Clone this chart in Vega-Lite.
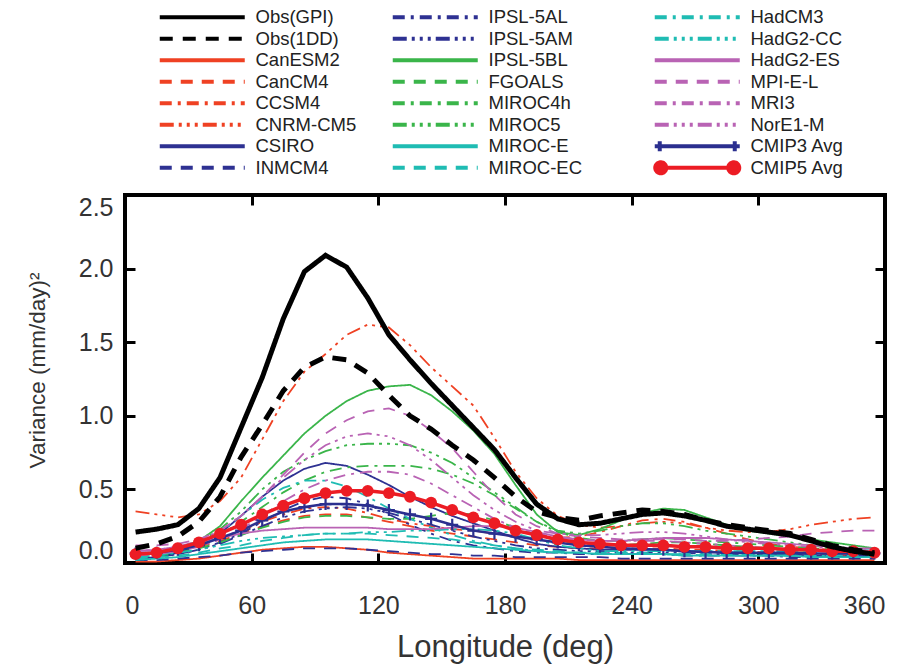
{
"$schema": "https://vega.github.io/schema/vega-lite/v6.json",
"width": 760, "height": 368,
"autosize": {"type": "none"},
"padding": {"left": 125, "top": 195, "right": 39, "bottom": 101},
"background": "white",
"config": {"view": {"stroke": "black", "strokeWidth": 4}, "font": "Liberation Sans"},
"datasets": {"d": [
{"m":"Obs(GPI)","x":5,"v":0.21},{"m":"Obs(GPI)","x":15,"v":0.23},{"m":"Obs(GPI)","x":25,"v":0.26},{"m":"Obs(GPI)","x":35,"v":0.37},{"m":"Obs(GPI)","x":45,"v":0.58},{"m":"Obs(GPI)","x":55,"v":0.92},{"m":"Obs(GPI)","x":65,"v":1.26},{"m":"Obs(GPI)","x":75,"v":1.66},{"m":"Obs(GPI)","x":85,"v":1.98},{"m":"Obs(GPI)","x":95,"v":2.09},{"m":"Obs(GPI)","x":105,"v":2.01},{"m":"Obs(GPI)","x":115,"v":1.8},{"m":"Obs(GPI)","x":125,"v":1.55},{"m":"Obs(GPI)","x":135,"v":1.38},{"m":"Obs(GPI)","x":145,"v":1.22},{"m":"Obs(GPI)","x":155,"v":1.07},{"m":"Obs(GPI)","x":165,"v":0.92},{"m":"Obs(GPI)","x":175,"v":0.77},{"m":"Obs(GPI)","x":185,"v":0.58},{"m":"Obs(GPI)","x":195,"v":0.4},{"m":"Obs(GPI)","x":205,"v":0.3},{"m":"Obs(GPI)","x":215,"v":0.26},{"m":"Obs(GPI)","x":225,"v":0.27},{"m":"Obs(GPI)","x":235,"v":0.3},{"m":"Obs(GPI)","x":245,"v":0.33},{"m":"Obs(GPI)","x":255,"v":0.34},{"m":"Obs(GPI)","x":265,"v":0.32},{"m":"Obs(GPI)","x":275,"v":0.29},{"m":"Obs(GPI)","x":285,"v":0.25},{"m":"Obs(GPI)","x":295,"v":0.23},{"m":"Obs(GPI)","x":305,"v":0.21},{"m":"Obs(GPI)","x":315,"v":0.19},{"m":"Obs(GPI)","x":325,"v":0.15},{"m":"Obs(GPI)","x":335,"v":0.11},{"m":"Obs(GPI)","x":345,"v":0.08},{"m":"Obs(GPI)","x":355,"v":0.06},
{"m":"Obs(1DD)","x":5,"v":0.1},{"m":"Obs(1DD)","x":15,"v":0.13},{"m":"Obs(1DD)","x":25,"v":0.18},{"m":"Obs(1DD)","x":35,"v":0.28},{"m":"Obs(1DD)","x":45,"v":0.45},{"m":"Obs(1DD)","x":55,"v":0.72},{"m":"Obs(1DD)","x":65,"v":0.94},{"m":"Obs(1DD)","x":75,"v":1.17},{"m":"Obs(1DD)","x":85,"v":1.33},{"m":"Obs(1DD)","x":95,"v":1.4},{"m":"Obs(1DD)","x":105,"v":1.38},{"m":"Obs(1DD)","x":115,"v":1.29},{"m":"Obs(1DD)","x":125,"v":1.14},{"m":"Obs(1DD)","x":135,"v":1.0},{"m":"Obs(1DD)","x":145,"v":0.91},{"m":"Obs(1DD)","x":155,"v":0.8},{"m":"Obs(1DD)","x":165,"v":0.7},{"m":"Obs(1DD)","x":175,"v":0.58},{"m":"Obs(1DD)","x":185,"v":0.45},{"m":"Obs(1DD)","x":195,"v":0.35},{"m":"Obs(1DD)","x":205,"v":0.31},{"m":"Obs(1DD)","x":215,"v":0.29},{"m":"Obs(1DD)","x":225,"v":0.32},{"m":"Obs(1DD)","x":235,"v":0.34},{"m":"Obs(1DD)","x":245,"v":0.36},{"m":"Obs(1DD)","x":255,"v":0.35},{"m":"Obs(1DD)","x":265,"v":0.33},{"m":"Obs(1DD)","x":275,"v":0.29},{"m":"Obs(1DD)","x":285,"v":0.26},{"m":"Obs(1DD)","x":295,"v":0.24},{"m":"Obs(1DD)","x":305,"v":0.22},{"m":"Obs(1DD)","x":315,"v":0.2},{"m":"Obs(1DD)","x":325,"v":0.16},{"m":"Obs(1DD)","x":335,"v":0.12},{"m":"Obs(1DD)","x":345,"v":0.09},{"m":"Obs(1DD)","x":355,"v":0.07},
{"m":"CanESM2","x":5,"v":0.01},{"m":"CanESM2","x":15,"v":0.01},{"m":"CanESM2","x":25,"v":0.02},{"m":"CanESM2","x":35,"v":0.03},{"m":"CanESM2","x":45,"v":0.05},{"m":"CanESM2","x":55,"v":0.07},{"m":"CanESM2","x":65,"v":0.09},{"m":"CanESM2","x":75,"v":0.1},{"m":"CanESM2","x":85,"v":0.11},{"m":"CanESM2","x":95,"v":0.11},{"m":"CanESM2","x":105,"v":0.1},{"m":"CanESM2","x":115,"v":0.09},{"m":"CanESM2","x":125,"v":0.07},{"m":"CanESM2","x":135,"v":0.06},{"m":"CanESM2","x":145,"v":0.05},{"m":"CanESM2","x":155,"v":0.04},{"m":"CanESM2","x":165,"v":0.03},{"m":"CanESM2","x":175,"v":0.03},{"m":"CanESM2","x":185,"v":0.03},{"m":"CanESM2","x":195,"v":0.03},{"m":"CanESM2","x":205,"v":0.03},{"m":"CanESM2","x":215,"v":0.02},{"m":"CanESM2","x":225,"v":0.02},{"m":"CanESM2","x":235,"v":0.02},{"m":"CanESM2","x":245,"v":0.02},{"m":"CanESM2","x":255,"v":0.02},{"m":"CanESM2","x":265,"v":0.02},{"m":"CanESM2","x":275,"v":0.02},{"m":"CanESM2","x":285,"v":0.02},{"m":"CanESM2","x":295,"v":0.02},{"m":"CanESM2","x":305,"v":0.02},{"m":"CanESM2","x":315,"v":0.02},{"m":"CanESM2","x":325,"v":0.02},{"m":"CanESM2","x":335,"v":0.02},{"m":"CanESM2","x":345,"v":0.02},{"m":"CanESM2","x":355,"v":0.02},
{"m":"CanCM4","x":5,"v":0.05},{"m":"CanCM4","x":15,"v":0.06},{"m":"CanCM4","x":25,"v":0.08},{"m":"CanCM4","x":35,"v":0.11},{"m":"CanCM4","x":45,"v":0.15},{"m":"CanCM4","x":55,"v":0.2},{"m":"CanCM4","x":65,"v":0.25},{"m":"CanCM4","x":75,"v":0.29},{"m":"CanCM4","x":85,"v":0.32},{"m":"CanCM4","x":95,"v":0.33},{"m":"CanCM4","x":105,"v":0.33},{"m":"CanCM4","x":115,"v":0.31},{"m":"CanCM4","x":125,"v":0.28},{"m":"CanCM4","x":135,"v":0.25},{"m":"CanCM4","x":145,"v":0.22},{"m":"CanCM4","x":155,"v":0.2},{"m":"CanCM4","x":165,"v":0.18},{"m":"CanCM4","x":175,"v":0.16},{"m":"CanCM4","x":185,"v":0.14},{"m":"CanCM4","x":195,"v":0.12},{"m":"CanCM4","x":205,"v":0.11},{"m":"CanCM4","x":215,"v":0.1},{"m":"CanCM4","x":225,"v":0.1},{"m":"CanCM4","x":235,"v":0.1},{"m":"CanCM4","x":245,"v":0.1},{"m":"CanCM4","x":255,"v":0.1},{"m":"CanCM4","x":265,"v":0.09},{"m":"CanCM4","x":275,"v":0.09},{"m":"CanCM4","x":285,"v":0.08},{"m":"CanCM4","x":295,"v":0.08},{"m":"CanCM4","x":305,"v":0.07},{"m":"CanCM4","x":315,"v":0.07},{"m":"CanCM4","x":325,"v":0.06},{"m":"CanCM4","x":335,"v":0.06},{"m":"CanCM4","x":345,"v":0.05},{"m":"CanCM4","x":355,"v":0.05},
{"m":"CCSM4","x":5,"v":0.06},{"m":"CCSM4","x":15,"v":0.07},{"m":"CCSM4","x":25,"v":0.09},{"m":"CCSM4","x":35,"v":0.12},{"m":"CCSM4","x":45,"v":0.16},{"m":"CCSM4","x":55,"v":0.22},{"m":"CCSM4","x":65,"v":0.28},{"m":"CCSM4","x":75,"v":0.33},{"m":"CCSM4","x":85,"v":0.37},{"m":"CCSM4","x":95,"v":0.38},{"m":"CCSM4","x":105,"v":0.37},{"m":"CCSM4","x":115,"v":0.34},{"m":"CCSM4","x":125,"v":0.3},{"m":"CCSM4","x":135,"v":0.27},{"m":"CCSM4","x":145,"v":0.25},{"m":"CCSM4","x":155,"v":0.23},{"m":"CCSM4","x":165,"v":0.22},{"m":"CCSM4","x":175,"v":0.2},{"m":"CCSM4","x":185,"v":0.18},{"m":"CCSM4","x":195,"v":0.17},{"m":"CCSM4","x":205,"v":0.17},{"m":"CCSM4","x":215,"v":0.18},{"m":"CCSM4","x":225,"v":0.21},{"m":"CCSM4","x":235,"v":0.25},{"m":"CCSM4","x":245,"v":0.29},{"m":"CCSM4","x":255,"v":0.3},{"m":"CCSM4","x":265,"v":0.28},{"m":"CCSM4","x":275,"v":0.24},{"m":"CCSM4","x":285,"v":0.2},{"m":"CCSM4","x":295,"v":0.16},{"m":"CCSM4","x":305,"v":0.13},{"m":"CCSM4","x":315,"v":0.11},{"m":"CCSM4","x":325,"v":0.1},{"m":"CCSM4","x":335,"v":0.09},{"m":"CCSM4","x":345,"v":0.08},{"m":"CCSM4","x":355,"v":0.08},
{"m":"CNRM-CM5","x":5,"v":0.35},{"m":"CNRM-CM5","x":15,"v":0.33},{"m":"CNRM-CM5","x":25,"v":0.31},{"m":"CNRM-CM5","x":35,"v":0.33},{"m":"CNRM-CM5","x":45,"v":0.42},{"m":"CNRM-CM5","x":55,"v":0.58},{"m":"CNRM-CM5","x":65,"v":0.84},{"m":"CNRM-CM5","x":75,"v":1.1},{"m":"CNRM-CM5","x":85,"v":1.3},{"m":"CNRM-CM5","x":95,"v":1.42},{"m":"CNRM-CM5","x":105,"v":1.55},{"m":"CNRM-CM5","x":115,"v":1.62},{"m":"CNRM-CM5","x":125,"v":1.6},{"m":"CNRM-CM5","x":135,"v":1.48},{"m":"CNRM-CM5","x":145,"v":1.33},{"m":"CNRM-CM5","x":155,"v":1.2},{"m":"CNRM-CM5","x":165,"v":1.07},{"m":"CNRM-CM5","x":175,"v":0.85},{"m":"CNRM-CM5","x":185,"v":0.62},{"m":"CNRM-CM5","x":195,"v":0.44},{"m":"CNRM-CM5","x":205,"v":0.32},{"m":"CNRM-CM5","x":215,"v":0.26},{"m":"CNRM-CM5","x":225,"v":0.24},{"m":"CNRM-CM5","x":235,"v":0.25},{"m":"CNRM-CM5","x":245,"v":0.27},{"m":"CNRM-CM5","x":255,"v":0.28},{"m":"CNRM-CM5","x":265,"v":0.27},{"m":"CNRM-CM5","x":275,"v":0.24},{"m":"CNRM-CM5","x":285,"v":0.22},{"m":"CNRM-CM5","x":295,"v":0.21},{"m":"CNRM-CM5","x":305,"v":0.21},{"m":"CNRM-CM5","x":315,"v":0.23},{"m":"CNRM-CM5","x":325,"v":0.26},{"m":"CNRM-CM5","x":335,"v":0.28},{"m":"CNRM-CM5","x":345,"v":0.3},{"m":"CNRM-CM5","x":355,"v":0.31},
{"m":"CSIRO","x":5,"v":0.03},{"m":"CSIRO","x":15,"v":0.04},{"m":"CSIRO","x":25,"v":0.07},{"m":"CSIRO","x":35,"v":0.12},{"m":"CSIRO","x":45,"v":0.2},{"m":"CSIRO","x":55,"v":0.32},{"m":"CSIRO","x":65,"v":0.45},{"m":"CSIRO","x":75,"v":0.56},{"m":"CSIRO","x":85,"v":0.64},{"m":"CSIRO","x":95,"v":0.68},{"m":"CSIRO","x":105,"v":0.66},{"m":"CSIRO","x":115,"v":0.6},{"m":"CSIRO","x":125,"v":0.53},{"m":"CSIRO","x":135,"v":0.45},{"m":"CSIRO","x":145,"v":0.38},{"m":"CSIRO","x":155,"v":0.32},{"m":"CSIRO","x":165,"v":0.27},{"m":"CSIRO","x":175,"v":0.22},{"m":"CSIRO","x":185,"v":0.17},{"m":"CSIRO","x":195,"v":0.13},{"m":"CSIRO","x":205,"v":0.11},{"m":"CSIRO","x":215,"v":0.1},{"m":"CSIRO","x":225,"v":0.09},{"m":"CSIRO","x":235,"v":0.09},{"m":"CSIRO","x":245,"v":0.09},{"m":"CSIRO","x":255,"v":0.09},{"m":"CSIRO","x":265,"v":0.08},{"m":"CSIRO","x":275,"v":0.08},{"m":"CSIRO","x":285,"v":0.07},{"m":"CSIRO","x":295,"v":0.07},{"m":"CSIRO","x":305,"v":0.06},{"m":"CSIRO","x":315,"v":0.06},{"m":"CSIRO","x":325,"v":0.05},{"m":"CSIRO","x":335,"v":0.05},{"m":"CSIRO","x":345,"v":0.04},{"m":"CSIRO","x":355,"v":0.04},
{"m":"INMCM4","x":5,"v":0.02},{"m":"INMCM4","x":15,"v":0.02},{"m":"INMCM4","x":25,"v":0.03},{"m":"INMCM4","x":35,"v":0.04},{"m":"INMCM4","x":45,"v":0.05},{"m":"INMCM4","x":55,"v":0.07},{"m":"INMCM4","x":65,"v":0.08},{"m":"INMCM4","x":75,"v":0.09},{"m":"INMCM4","x":85,"v":0.1},{"m":"INMCM4","x":95,"v":0.1},{"m":"INMCM4","x":105,"v":0.1},{"m":"INMCM4","x":115,"v":0.09},{"m":"INMCM4","x":125,"v":0.08},{"m":"INMCM4","x":135,"v":0.07},{"m":"INMCM4","x":145,"v":0.06},{"m":"INMCM4","x":155,"v":0.06},{"m":"INMCM4","x":165,"v":0.05},{"m":"INMCM4","x":175,"v":0.05},{"m":"INMCM4","x":185,"v":0.04},{"m":"INMCM4","x":195,"v":0.04},{"m":"INMCM4","x":205,"v":0.04},{"m":"INMCM4","x":215,"v":0.04},{"m":"INMCM4","x":225,"v":0.04},{"m":"INMCM4","x":235,"v":0.03},{"m":"INMCM4","x":245,"v":0.03},{"m":"INMCM4","x":255,"v":0.03},{"m":"INMCM4","x":265,"v":0.03},{"m":"INMCM4","x":275,"v":0.03},{"m":"INMCM4","x":285,"v":0.03},{"m":"INMCM4","x":295,"v":0.03},{"m":"INMCM4","x":305,"v":0.03},{"m":"INMCM4","x":315,"v":0.03},{"m":"INMCM4","x":325,"v":0.03},{"m":"INMCM4","x":335,"v":0.03},{"m":"INMCM4","x":345,"v":0.03},{"m":"INMCM4","x":355,"v":0.03},
{"m":"IPSL-5AL","x":5,"v":0.03},{"m":"IPSL-5AL","x":15,"v":0.04},{"m":"IPSL-5AL","x":25,"v":0.06},{"m":"IPSL-5AL","x":35,"v":0.09},{"m":"IPSL-5AL","x":45,"v":0.14},{"m":"IPSL-5AL","x":55,"v":0.2},{"m":"IPSL-5AL","x":65,"v":0.28},{"m":"IPSL-5AL","x":75,"v":0.36},{"m":"IPSL-5AL","x":85,"v":0.42},{"m":"IPSL-5AL","x":95,"v":0.45},{"m":"IPSL-5AL","x":105,"v":0.44},{"m":"IPSL-5AL","x":115,"v":0.4},{"m":"IPSL-5AL","x":125,"v":0.33},{"m":"IPSL-5AL","x":135,"v":0.26},{"m":"IPSL-5AL","x":145,"v":0.2},{"m":"IPSL-5AL","x":155,"v":0.15},{"m":"IPSL-5AL","x":165,"v":0.12},{"m":"IPSL-5AL","x":175,"v":0.1},{"m":"IPSL-5AL","x":185,"v":0.08},{"m":"IPSL-5AL","x":195,"v":0.07},{"m":"IPSL-5AL","x":205,"v":0.07},{"m":"IPSL-5AL","x":215,"v":0.06},{"m":"IPSL-5AL","x":225,"v":0.06},{"m":"IPSL-5AL","x":235,"v":0.06},{"m":"IPSL-5AL","x":245,"v":0.06},{"m":"IPSL-5AL","x":255,"v":0.06},{"m":"IPSL-5AL","x":265,"v":0.05},{"m":"IPSL-5AL","x":275,"v":0.05},{"m":"IPSL-5AL","x":285,"v":0.05},{"m":"IPSL-5AL","x":295,"v":0.05},{"m":"IPSL-5AL","x":305,"v":0.05},{"m":"IPSL-5AL","x":315,"v":0.04},{"m":"IPSL-5AL","x":325,"v":0.04},{"m":"IPSL-5AL","x":335,"v":0.04},{"m":"IPSL-5AL","x":345,"v":0.04},{"m":"IPSL-5AL","x":355,"v":0.04},
{"m":"IPSL-5AM","x":5,"v":0.03},{"m":"IPSL-5AM","x":15,"v":0.04},{"m":"IPSL-5AM","x":25,"v":0.06},{"m":"IPSL-5AM","x":35,"v":0.09},{"m":"IPSL-5AM","x":45,"v":0.13},{"m":"IPSL-5AM","x":55,"v":0.19},{"m":"IPSL-5AM","x":65,"v":0.25},{"m":"IPSL-5AM","x":75,"v":0.31},{"m":"IPSL-5AM","x":85,"v":0.35},{"m":"IPSL-5AM","x":95,"v":0.37},{"m":"IPSL-5AM","x":105,"v":0.38},{"m":"IPSL-5AM","x":115,"v":0.37},{"m":"IPSL-5AM","x":125,"v":0.34},{"m":"IPSL-5AM","x":135,"v":0.3},{"m":"IPSL-5AM","x":145,"v":0.26},{"m":"IPSL-5AM","x":155,"v":0.22},{"m":"IPSL-5AM","x":165,"v":0.18},{"m":"IPSL-5AM","x":175,"v":0.15},{"m":"IPSL-5AM","x":185,"v":0.12},{"m":"IPSL-5AM","x":195,"v":0.1},{"m":"IPSL-5AM","x":205,"v":0.09},{"m":"IPSL-5AM","x":215,"v":0.08},{"m":"IPSL-5AM","x":225,"v":0.08},{"m":"IPSL-5AM","x":235,"v":0.07},{"m":"IPSL-5AM","x":245,"v":0.07},{"m":"IPSL-5AM","x":255,"v":0.07},{"m":"IPSL-5AM","x":265,"v":0.07},{"m":"IPSL-5AM","x":275,"v":0.06},{"m":"IPSL-5AM","x":285,"v":0.06},{"m":"IPSL-5AM","x":295,"v":0.06},{"m":"IPSL-5AM","x":305,"v":0.06},{"m":"IPSL-5AM","x":315,"v":0.05},{"m":"IPSL-5AM","x":325,"v":0.05},{"m":"IPSL-5AM","x":335,"v":0.05},{"m":"IPSL-5AM","x":345,"v":0.05},{"m":"IPSL-5AM","x":355,"v":0.05},
{"m":"IPSL-5BL","x":5,"v":0.05},{"m":"IPSL-5BL","x":15,"v":0.07},{"m":"IPSL-5BL","x":25,"v":0.1},{"m":"IPSL-5BL","x":35,"v":0.15},{"m":"IPSL-5BL","x":45,"v":0.25},{"m":"IPSL-5BL","x":55,"v":0.42},{"m":"IPSL-5BL","x":65,"v":0.58},{"m":"IPSL-5BL","x":75,"v":0.73},{"m":"IPSL-5BL","x":85,"v":0.88},{"m":"IPSL-5BL","x":95,"v":1.0},{"m":"IPSL-5BL","x":105,"v":1.1},{"m":"IPSL-5BL","x":115,"v":1.17},{"m":"IPSL-5BL","x":125,"v":1.2},{"m":"IPSL-5BL","x":135,"v":1.21},{"m":"IPSL-5BL","x":145,"v":1.14},{"m":"IPSL-5BL","x":155,"v":1.03},{"m":"IPSL-5BL","x":165,"v":0.9},{"m":"IPSL-5BL","x":175,"v":0.74},{"m":"IPSL-5BL","x":185,"v":0.53},{"m":"IPSL-5BL","x":195,"v":0.33},{"m":"IPSL-5BL","x":205,"v":0.21},{"m":"IPSL-5BL","x":215,"v":0.19},{"m":"IPSL-5BL","x":225,"v":0.23},{"m":"IPSL-5BL","x":235,"v":0.29},{"m":"IPSL-5BL","x":245,"v":0.34},{"m":"IPSL-5BL","x":255,"v":0.37},{"m":"IPSL-5BL","x":265,"v":0.36},{"m":"IPSL-5BL","x":275,"v":0.31},{"m":"IPSL-5BL","x":285,"v":0.26},{"m":"IPSL-5BL","x":295,"v":0.22},{"m":"IPSL-5BL","x":305,"v":0.2},{"m":"IPSL-5BL","x":315,"v":0.18},{"m":"IPSL-5BL","x":325,"v":0.16},{"m":"IPSL-5BL","x":335,"v":0.14},{"m":"IPSL-5BL","x":345,"v":0.12},{"m":"IPSL-5BL","x":355,"v":0.1},
{"m":"FGOALS","x":5,"v":0.04},{"m":"FGOALS","x":15,"v":0.05},{"m":"FGOALS","x":25,"v":0.07},{"m":"FGOALS","x":35,"v":0.1},{"m":"FGOALS","x":45,"v":0.14},{"m":"FGOALS","x":55,"v":0.19},{"m":"FGOALS","x":65,"v":0.24},{"m":"FGOALS","x":75,"v":0.28},{"m":"FGOALS","x":85,"v":0.31},{"m":"FGOALS","x":95,"v":0.32},{"m":"FGOALS","x":105,"v":0.32},{"m":"FGOALS","x":115,"v":0.31},{"m":"FGOALS","x":125,"v":0.3},{"m":"FGOALS","x":135,"v":0.3},{"m":"FGOALS","x":145,"v":0.32},{"m":"FGOALS","x":155,"v":0.34},{"m":"FGOALS","x":165,"v":0.33},{"m":"FGOALS","x":175,"v":0.29},{"m":"FGOALS","x":185,"v":0.24},{"m":"FGOALS","x":195,"v":0.19},{"m":"FGOALS","x":205,"v":0.15},{"m":"FGOALS","x":215,"v":0.13},{"m":"FGOALS","x":225,"v":0.12},{"m":"FGOALS","x":235,"v":0.12},{"m":"FGOALS","x":245,"v":0.13},{"m":"FGOALS","x":255,"v":0.14},{"m":"FGOALS","x":265,"v":0.14},{"m":"FGOALS","x":275,"v":0.13},{"m":"FGOALS","x":285,"v":0.12},{"m":"FGOALS","x":295,"v":0.11},{"m":"FGOALS","x":305,"v":0.1},{"m":"FGOALS","x":315,"v":0.09},{"m":"FGOALS","x":325,"v":0.08},{"m":"FGOALS","x":335,"v":0.08},{"m":"FGOALS","x":345,"v":0.07},{"m":"FGOALS","x":355,"v":0.07},
{"m":"MIROC4h","x":5,"v":0.04},{"m":"MIROC4h","x":15,"v":0.05},{"m":"MIROC4h","x":25,"v":0.08},{"m":"MIROC4h","x":35,"v":0.12},{"m":"MIROC4h","x":45,"v":0.19},{"m":"MIROC4h","x":55,"v":0.28},{"m":"MIROC4h","x":65,"v":0.38},{"m":"MIROC4h","x":75,"v":0.48},{"m":"MIROC4h","x":85,"v":0.56},{"m":"MIROC4h","x":95,"v":0.62},{"m":"MIROC4h","x":105,"v":0.65},{"m":"MIROC4h","x":115,"v":0.66},{"m":"MIROC4h","x":125,"v":0.66},{"m":"MIROC4h","x":135,"v":0.66},{"m":"MIROC4h","x":145,"v":0.64},{"m":"MIROC4h","x":155,"v":0.6},{"m":"MIROC4h","x":165,"v":0.54},{"m":"MIROC4h","x":175,"v":0.46},{"m":"MIROC4h","x":185,"v":0.37},{"m":"MIROC4h","x":195,"v":0.28},{"m":"MIROC4h","x":205,"v":0.21},{"m":"MIROC4h","x":215,"v":0.17},{"m":"MIROC4h","x":225,"v":0.15},{"m":"MIROC4h","x":235,"v":0.15},{"m":"MIROC4h","x":245,"v":0.16},{"m":"MIROC4h","x":255,"v":0.17},{"m":"MIROC4h","x":265,"v":0.16},{"m":"MIROC4h","x":275,"v":0.15},{"m":"MIROC4h","x":285,"v":0.14},{"m":"MIROC4h","x":295,"v":0.13},{"m":"MIROC4h","x":305,"v":0.12},{"m":"MIROC4h","x":315,"v":0.11},{"m":"MIROC4h","x":325,"v":0.1},{"m":"MIROC4h","x":335,"v":0.09},{"m":"MIROC4h","x":345,"v":0.08},{"m":"MIROC4h","x":355,"v":0.08},
{"m":"MIROC5","x":5,"v":0.05},{"m":"MIROC5","x":15,"v":0.06},{"m":"MIROC5","x":25,"v":0.09},{"m":"MIROC5","x":35,"v":0.14},{"m":"MIROC5","x":45,"v":0.23},{"m":"MIROC5","x":55,"v":0.35},{"m":"MIROC5","x":65,"v":0.5},{"m":"MIROC5","x":75,"v":0.62},{"m":"MIROC5","x":85,"v":0.7},{"m":"MIROC5","x":95,"v":0.76},{"m":"MIROC5","x":105,"v":0.8},{"m":"MIROC5","x":115,"v":0.81},{"m":"MIROC5","x":125,"v":0.81},{"m":"MIROC5","x":135,"v":0.8},{"m":"MIROC5","x":145,"v":0.75},{"m":"MIROC5","x":155,"v":0.68},{"m":"MIROC5","x":165,"v":0.58},{"m":"MIROC5","x":175,"v":0.48},{"m":"MIROC5","x":185,"v":0.38},{"m":"MIROC5","x":195,"v":0.28},{"m":"MIROC5","x":205,"v":0.22},{"m":"MIROC5","x":215,"v":0.2},{"m":"MIROC5","x":225,"v":0.22},{"m":"MIROC5","x":235,"v":0.25},{"m":"MIROC5","x":245,"v":0.27},{"m":"MIROC5","x":255,"v":0.27},{"m":"MIROC5","x":265,"v":0.25},{"m":"MIROC5","x":275,"v":0.22},{"m":"MIROC5","x":285,"v":0.2},{"m":"MIROC5","x":295,"v":0.18},{"m":"MIROC5","x":305,"v":0.16},{"m":"MIROC5","x":315,"v":0.14},{"m":"MIROC5","x":325,"v":0.12},{"m":"MIROC5","x":335,"v":0.1},{"m":"MIROC5","x":345,"v":0.09},{"m":"MIROC5","x":355,"v":0.08},
{"m":"MIROC-E","x":5,"v":0.02},{"m":"MIROC-E","x":15,"v":0.03},{"m":"MIROC-E","x":25,"v":0.04},{"m":"MIROC-E","x":35,"v":0.06},{"m":"MIROC-E","x":45,"v":0.08},{"m":"MIROC-E","x":55,"v":0.1},{"m":"MIROC-E","x":65,"v":0.12},{"m":"MIROC-E","x":75,"v":0.14},{"m":"MIROC-E","x":85,"v":0.15},{"m":"MIROC-E","x":95,"v":0.16},{"m":"MIROC-E","x":105,"v":0.16},{"m":"MIROC-E","x":115,"v":0.16},{"m":"MIROC-E","x":125,"v":0.15},{"m":"MIROC-E","x":135,"v":0.14},{"m":"MIROC-E","x":145,"v":0.13},{"m":"MIROC-E","x":155,"v":0.12},{"m":"MIROC-E","x":165,"v":0.11},{"m":"MIROC-E","x":175,"v":0.1},{"m":"MIROC-E","x":185,"v":0.09},{"m":"MIROC-E","x":195,"v":0.08},{"m":"MIROC-E","x":205,"v":0.07},{"m":"MIROC-E","x":215,"v":0.07},{"m":"MIROC-E","x":225,"v":0.06},{"m":"MIROC-E","x":235,"v":0.06},{"m":"MIROC-E","x":245,"v":0.06},{"m":"MIROC-E","x":255,"v":0.06},{"m":"MIROC-E","x":265,"v":0.05},{"m":"MIROC-E","x":275,"v":0.05},{"m":"MIROC-E","x":285,"v":0.05},{"m":"MIROC-E","x":295,"v":0.05},{"m":"MIROC-E","x":305,"v":0.05},{"m":"MIROC-E","x":315,"v":0.05},{"m":"MIROC-E","x":325,"v":0.04},{"m":"MIROC-E","x":335,"v":0.04},{"m":"MIROC-E","x":345,"v":0.04},{"m":"MIROC-E","x":355,"v":0.04},
{"m":"MIROC-EC","x":5,"v":0.03},{"m":"MIROC-EC","x":15,"v":0.04},{"m":"MIROC-EC","x":25,"v":0.05},{"m":"MIROC-EC","x":35,"v":0.07},{"m":"MIROC-EC","x":45,"v":0.1},{"m":"MIROC-EC","x":55,"v":0.12},{"m":"MIROC-EC","x":65,"v":0.15},{"m":"MIROC-EC","x":75,"v":0.17},{"m":"MIROC-EC","x":85,"v":0.19},{"m":"MIROC-EC","x":95,"v":0.2},{"m":"MIROC-EC","x":105,"v":0.2},{"m":"MIROC-EC","x":115,"v":0.2},{"m":"MIROC-EC","x":125,"v":0.19},{"m":"MIROC-EC","x":135,"v":0.18},{"m":"MIROC-EC","x":145,"v":0.17},{"m":"MIROC-EC","x":155,"v":0.16},{"m":"MIROC-EC","x":165,"v":0.14},{"m":"MIROC-EC","x":175,"v":0.12},{"m":"MIROC-EC","x":185,"v":0.1},{"m":"MIROC-EC","x":195,"v":0.09},{"m":"MIROC-EC","x":205,"v":0.08},{"m":"MIROC-EC","x":215,"v":0.07},{"m":"MIROC-EC","x":225,"v":0.07},{"m":"MIROC-EC","x":235,"v":0.07},{"m":"MIROC-EC","x":245,"v":0.07},{"m":"MIROC-EC","x":255,"v":0.06},{"m":"MIROC-EC","x":265,"v":0.06},{"m":"MIROC-EC","x":275,"v":0.06},{"m":"MIROC-EC","x":285,"v":0.06},{"m":"MIROC-EC","x":295,"v":0.06},{"m":"MIROC-EC","x":305,"v":0.05},{"m":"MIROC-EC","x":315,"v":0.05},{"m":"MIROC-EC","x":325,"v":0.05},{"m":"MIROC-EC","x":335,"v":0.05},{"m":"MIROC-EC","x":345,"v":0.05},{"m":"MIROC-EC","x":355,"v":0.05},
{"m":"HadCM3","x":5,"v":0.03},{"m":"HadCM3","x":15,"v":0.05},{"m":"HadCM3","x":25,"v":0.08},{"m":"HadCM3","x":35,"v":0.13},{"m":"HadCM3","x":45,"v":0.21},{"m":"HadCM3","x":55,"v":0.32},{"m":"HadCM3","x":65,"v":0.43},{"m":"HadCM3","x":75,"v":0.51},{"m":"HadCM3","x":85,"v":0.56},{"m":"HadCM3","x":95,"v":0.56},{"m":"HadCM3","x":105,"v":0.52},{"m":"HadCM3","x":115,"v":0.45},{"m":"HadCM3","x":125,"v":0.37},{"m":"HadCM3","x":135,"v":0.3},{"m":"HadCM3","x":145,"v":0.24},{"m":"HadCM3","x":155,"v":0.19},{"m":"HadCM3","x":165,"v":0.15},{"m":"HadCM3","x":175,"v":0.12},{"m":"HadCM3","x":185,"v":0.1},{"m":"HadCM3","x":195,"v":0.08},{"m":"HadCM3","x":205,"v":0.07},{"m":"HadCM3","x":215,"v":0.07},{"m":"HadCM3","x":225,"v":0.06},{"m":"HadCM3","x":235,"v":0.06},{"m":"HadCM3","x":245,"v":0.06},{"m":"HadCM3","x":255,"v":0.06},{"m":"HadCM3","x":265,"v":0.06},{"m":"HadCM3","x":275,"v":0.05},{"m":"HadCM3","x":285,"v":0.05},{"m":"HadCM3","x":295,"v":0.05},{"m":"HadCM3","x":305,"v":0.05},{"m":"HadCM3","x":315,"v":0.05},{"m":"HadCM3","x":325,"v":0.05},{"m":"HadCM3","x":335,"v":0.05},{"m":"HadCM3","x":345,"v":0.06},{"m":"HadCM3","x":355,"v":0.06},
{"m":"HadG2-CC","x":5,"v":0.04},{"m":"HadG2-CC","x":15,"v":0.05},{"m":"HadG2-CC","x":25,"v":0.07},{"m":"HadG2-CC","x":35,"v":0.09},{"m":"HadG2-CC","x":45,"v":0.12},{"m":"HadG2-CC","x":55,"v":0.15},{"m":"HadG2-CC","x":65,"v":0.17},{"m":"HadG2-CC","x":75,"v":0.18},{"m":"HadG2-CC","x":85,"v":0.19},{"m":"HadG2-CC","x":95,"v":0.2},{"m":"HadG2-CC","x":105,"v":0.2},{"m":"HadG2-CC","x":115,"v":0.21},{"m":"HadG2-CC","x":125,"v":0.21},{"m":"HadG2-CC","x":135,"v":0.22},{"m":"HadG2-CC","x":145,"v":0.22},{"m":"HadG2-CC","x":155,"v":0.23},{"m":"HadG2-CC","x":165,"v":0.23},{"m":"HadG2-CC","x":175,"v":0.22},{"m":"HadG2-CC","x":185,"v":0.2},{"m":"HadG2-CC","x":195,"v":0.16},{"m":"HadG2-CC","x":205,"v":0.12},{"m":"HadG2-CC","x":215,"v":0.1},{"m":"HadG2-CC","x":225,"v":0.08},{"m":"HadG2-CC","x":235,"v":0.08},{"m":"HadG2-CC","x":245,"v":0.08},{"m":"HadG2-CC","x":255,"v":0.08},{"m":"HadG2-CC","x":265,"v":0.08},{"m":"HadG2-CC","x":275,"v":0.08},{"m":"HadG2-CC","x":285,"v":0.08},{"m":"HadG2-CC","x":295,"v":0.08},{"m":"HadG2-CC","x":305,"v":0.08},{"m":"HadG2-CC","x":315,"v":0.08},{"m":"HadG2-CC","x":325,"v":0.08},{"m":"HadG2-CC","x":335,"v":0.09},{"m":"HadG2-CC","x":345,"v":0.09},{"m":"HadG2-CC","x":355,"v":0.1},
{"m":"HadG2-ES","x":5,"v":0.08},{"m":"HadG2-ES","x":15,"v":0.09},{"m":"HadG2-ES","x":25,"v":0.11},{"m":"HadG2-ES","x":35,"v":0.14},{"m":"HadG2-ES","x":45,"v":0.17},{"m":"HadG2-ES","x":55,"v":0.2},{"m":"HadG2-ES","x":65,"v":0.22},{"m":"HadG2-ES","x":75,"v":0.23},{"m":"HadG2-ES","x":85,"v":0.24},{"m":"HadG2-ES","x":95,"v":0.24},{"m":"HadG2-ES","x":105,"v":0.24},{"m":"HadG2-ES","x":115,"v":0.24},{"m":"HadG2-ES","x":125,"v":0.23},{"m":"HadG2-ES","x":135,"v":0.23},{"m":"HadG2-ES","x":145,"v":0.23},{"m":"HadG2-ES","x":155,"v":0.24},{"m":"HadG2-ES","x":165,"v":0.25},{"m":"HadG2-ES","x":175,"v":0.25},{"m":"HadG2-ES","x":185,"v":0.24},{"m":"HadG2-ES","x":195,"v":0.21},{"m":"HadG2-ES","x":205,"v":0.18},{"m":"HadG2-ES","x":215,"v":0.16},{"m":"HadG2-ES","x":225,"v":0.15},{"m":"HadG2-ES","x":235,"v":0.15},{"m":"HadG2-ES","x":245,"v":0.16},{"m":"HadG2-ES","x":255,"v":0.17},{"m":"HadG2-ES","x":265,"v":0.17},{"m":"HadG2-ES","x":275,"v":0.17},{"m":"HadG2-ES","x":285,"v":0.16},{"m":"HadG2-ES","x":295,"v":0.15},{"m":"HadG2-ES","x":305,"v":0.14},{"m":"HadG2-ES","x":315,"v":0.13},{"m":"HadG2-ES","x":325,"v":0.12},{"m":"HadG2-ES","x":335,"v":0.11},{"m":"HadG2-ES","x":345,"v":0.1},{"m":"HadG2-ES","x":355,"v":0.1},
{"m":"MPI-E-L","x":5,"v":0.12},{"m":"MPI-E-L","x":15,"v":0.12},{"m":"MPI-E-L","x":25,"v":0.13},{"m":"MPI-E-L","x":35,"v":0.16},{"m":"MPI-E-L","x":45,"v":0.22},{"m":"MPI-E-L","x":55,"v":0.32},{"m":"MPI-E-L","x":65,"v":0.45},{"m":"MPI-E-L","x":75,"v":0.6},{"m":"MPI-E-L","x":85,"v":0.75},{"m":"MPI-E-L","x":95,"v":0.88},{"m":"MPI-E-L","x":105,"v":0.97},{"m":"MPI-E-L","x":115,"v":1.03},{"m":"MPI-E-L","x":125,"v":1.05},{"m":"MPI-E-L","x":135,"v":1.0},{"m":"MPI-E-L","x":145,"v":0.9},{"m":"MPI-E-L","x":155,"v":0.78},{"m":"MPI-E-L","x":165,"v":0.62},{"m":"MPI-E-L","x":175,"v":0.46},{"m":"MPI-E-L","x":185,"v":0.33},{"m":"MPI-E-L","x":195,"v":0.25},{"m":"MPI-E-L","x":205,"v":0.2},{"m":"MPI-E-L","x":215,"v":0.18},{"m":"MPI-E-L","x":225,"v":0.17},{"m":"MPI-E-L","x":235,"v":0.16},{"m":"MPI-E-L","x":245,"v":0.16},{"m":"MPI-E-L","x":255,"v":0.16},{"m":"MPI-E-L","x":265,"v":0.16},{"m":"MPI-E-L","x":275,"v":0.15},{"m":"MPI-E-L","x":285,"v":0.15},{"m":"MPI-E-L","x":295,"v":0.16},{"m":"MPI-E-L","x":305,"v":0.17},{"m":"MPI-E-L","x":315,"v":0.18},{"m":"MPI-E-L","x":325,"v":0.2},{"m":"MPI-E-L","x":335,"v":0.21},{"m":"MPI-E-L","x":345,"v":0.22},{"m":"MPI-E-L","x":355,"v":0.22},
{"m":"MRI3","x":5,"v":0.05},{"m":"MRI3","x":15,"v":0.06},{"m":"MRI3","x":25,"v":0.08},{"m":"MRI3","x":35,"v":0.11},{"m":"MRI3","x":45,"v":0.16},{"m":"MRI3","x":55,"v":0.23},{"m":"MRI3","x":65,"v":0.32},{"m":"MRI3","x":75,"v":0.42},{"m":"MRI3","x":85,"v":0.5},{"m":"MRI3","x":95,"v":0.56},{"m":"MRI3","x":105,"v":0.6},{"m":"MRI3","x":115,"v":0.62},{"m":"MRI3","x":125,"v":0.62},{"m":"MRI3","x":135,"v":0.6},{"m":"MRI3","x":145,"v":0.54},{"m":"MRI3","x":155,"v":0.46},{"m":"MRI3","x":165,"v":0.38},{"m":"MRI3","x":175,"v":0.3},{"m":"MRI3","x":185,"v":0.24},{"m":"MRI3","x":195,"v":0.2},{"m":"MRI3","x":205,"v":0.17},{"m":"MRI3","x":215,"v":0.16},{"m":"MRI3","x":225,"v":0.15},{"m":"MRI3","x":235,"v":0.15},{"m":"MRI3","x":245,"v":0.15},{"m":"MRI3","x":255,"v":0.15},{"m":"MRI3","x":265,"v":0.14},{"m":"MRI3","x":275,"v":0.13},{"m":"MRI3","x":285,"v":0.12},{"m":"MRI3","x":295,"v":0.11},{"m":"MRI3","x":305,"v":0.1},{"m":"MRI3","x":315,"v":0.1},{"m":"MRI3","x":325,"v":0.09},{"m":"MRI3","x":335,"v":0.09},{"m":"MRI3","x":345,"v":0.08},{"m":"MRI3","x":355,"v":0.08},
{"m":"NorE1-M","x":5,"v":0.08},{"m":"NorE1-M","x":15,"v":0.09},{"m":"NorE1-M","x":25,"v":0.11},{"m":"NorE1-M","x":35,"v":0.15},{"m":"NorE1-M","x":45,"v":0.22},{"m":"NorE1-M","x":55,"v":0.32},{"m":"NorE1-M","x":65,"v":0.45},{"m":"NorE1-M","x":75,"v":0.58},{"m":"NorE1-M","x":85,"v":0.7},{"m":"NorE1-M","x":95,"v":0.8},{"m":"NorE1-M","x":105,"v":0.86},{"m":"NorE1-M","x":115,"v":0.88},{"m":"NorE1-M","x":125,"v":0.86},{"m":"NorE1-M","x":135,"v":0.8},{"m":"NorE1-M","x":145,"v":0.7},{"m":"NorE1-M","x":155,"v":0.58},{"m":"NorE1-M","x":165,"v":0.46},{"m":"NorE1-M","x":175,"v":0.36},{"m":"NorE1-M","x":185,"v":0.28},{"m":"NorE1-M","x":195,"v":0.22},{"m":"NorE1-M","x":205,"v":0.2},{"m":"NorE1-M","x":215,"v":0.19},{"m":"NorE1-M","x":225,"v":0.19},{"m":"NorE1-M","x":235,"v":0.2},{"m":"NorE1-M","x":245,"v":0.21},{"m":"NorE1-M","x":255,"v":0.21},{"m":"NorE1-M","x":265,"v":0.2},{"m":"NorE1-M","x":275,"v":0.18},{"m":"NorE1-M","x":285,"v":0.16},{"m":"NorE1-M","x":295,"v":0.14},{"m":"NorE1-M","x":305,"v":0.13},{"m":"NorE1-M","x":315,"v":0.12},{"m":"NorE1-M","x":325,"v":0.11},{"m":"NorE1-M","x":335,"v":0.1},{"m":"NorE1-M","x":345,"v":0.1},{"m":"NorE1-M","x":355,"v":0.09},
{"m":"CMIP3 Avg","x":5,"v":0.065},{"m":"CMIP3 Avg","x":15,"v":0.07},{"m":"CMIP3 Avg","x":25,"v":0.09},{"m":"CMIP3 Avg","x":35,"v":0.12},{"m":"CMIP3 Avg","x":45,"v":0.17},{"m":"CMIP3 Avg","x":55,"v":0.22},{"m":"CMIP3 Avg","x":65,"v":0.29},{"m":"CMIP3 Avg","x":75,"v":0.35},{"m":"CMIP3 Avg","x":85,"v":0.38},{"m":"CMIP3 Avg","x":95,"v":0.4},{"m":"CMIP3 Avg","x":105,"v":0.4},{"m":"CMIP3 Avg","x":115,"v":0.39},{"m":"CMIP3 Avg","x":125,"v":0.36},{"m":"CMIP3 Avg","x":135,"v":0.33},{"m":"CMIP3 Avg","x":145,"v":0.3},{"m":"CMIP3 Avg","x":155,"v":0.26},{"m":"CMIP3 Avg","x":165,"v":0.22},{"m":"CMIP3 Avg","x":175,"v":0.2},{"m":"CMIP3 Avg","x":185,"v":0.18},{"m":"CMIP3 Avg","x":195,"v":0.16},{"m":"CMIP3 Avg","x":205,"v":0.14},{"m":"CMIP3 Avg","x":215,"v":0.12},{"m":"CMIP3 Avg","x":225,"v":0.11},{"m":"CMIP3 Avg","x":235,"v":0.1},{"m":"CMIP3 Avg","x":245,"v":0.095},{"m":"CMIP3 Avg","x":255,"v":0.09},{"m":"CMIP3 Avg","x":265,"v":0.08},{"m":"CMIP3 Avg","x":275,"v":0.075},{"m":"CMIP3 Avg","x":285,"v":0.07},{"m":"CMIP3 Avg","x":295,"v":0.07},{"m":"CMIP3 Avg","x":305,"v":0.07},{"m":"CMIP3 Avg","x":315,"v":0.07},{"m":"CMIP3 Avg","x":325,"v":0.065},{"m":"CMIP3 Avg","x":335,"v":0.065},{"m":"CMIP3 Avg","x":345,"v":0.065},{"m":"CMIP3 Avg","x":355,"v":0.065},
{"m":"CMIP5 Avg","x":5,"v":0.06},{"m":"CMIP5 Avg","x":15,"v":0.07},{"m":"CMIP5 Avg","x":25,"v":0.1},{"m":"CMIP5 Avg","x":35,"v":0.14},{"m":"CMIP5 Avg","x":45,"v":0.2},{"m":"CMIP5 Avg","x":55,"v":0.26},{"m":"CMIP5 Avg","x":65,"v":0.33},{"m":"CMIP5 Avg","x":75,"v":0.39},{"m":"CMIP5 Avg","x":85,"v":0.44},{"m":"CMIP5 Avg","x":95,"v":0.475},{"m":"CMIP5 Avg","x":105,"v":0.49},{"m":"CMIP5 Avg","x":115,"v":0.49},{"m":"CMIP5 Avg","x":125,"v":0.475},{"m":"CMIP5 Avg","x":135,"v":0.45},{"m":"CMIP5 Avg","x":145,"v":0.41},{"m":"CMIP5 Avg","x":155,"v":0.36},{"m":"CMIP5 Avg","x":165,"v":0.31},{"m":"CMIP5 Avg","x":175,"v":0.27},{"m":"CMIP5 Avg","x":185,"v":0.22},{"m":"CMIP5 Avg","x":195,"v":0.19},{"m":"CMIP5 Avg","x":205,"v":0.16},{"m":"CMIP5 Avg","x":215,"v":0.14},{"m":"CMIP5 Avg","x":225,"v":0.13},{"m":"CMIP5 Avg","x":235,"v":0.12},{"m":"CMIP5 Avg","x":245,"v":0.12},{"m":"CMIP5 Avg","x":255,"v":0.12},{"m":"CMIP5 Avg","x":265,"v":0.11},{"m":"CMIP5 Avg","x":275,"v":0.11},{"m":"CMIP5 Avg","x":285,"v":0.1},{"m":"CMIP5 Avg","x":295,"v":0.1},{"m":"CMIP5 Avg","x":305,"v":0.1},{"m":"CMIP5 Avg","x":315,"v":0.09},{"m":"CMIP5 Avg","x":325,"v":0.09},{"m":"CMIP5 Avg","x":335,"v":0.08},{"m":"CMIP5 Avg","x":345,"v":0.08},{"m":"CMIP5 Avg","x":355,"v":0.07}
]},
"data": {"name": "d"},
"layer": [
{
 "transform": [{"filter": {"field": "m", "oneOf": ["CanESM2","CanCM4","CCSM4","CNRM-CM5","CSIRO","INMCM4"]}}],
 "mark": {"type": "line", "strokeWidth": 1.8},
 "encoding": {
  "x": {"field": "x", "type": "quantitative", "scale": {"domain": [0, 360], "nice": false, "zero": false},
   "axis": {"orient": "bottom", "values": [0,60,120,180,240,300,360], "title": "Longitude (deg)", "grid": false, "domain": false,
    "tickSize": -10, "tickWidth": 3, "tickColor": "black", "labelFontSize": 25, "labelColor": "#333", "labelPadding": 40, "labelFont": "Liberation Sans",
    "titleFontSize": 31, "titleFontWeight": "normal", "titleColor": "#333", "titleFont": "Liberation Sans", "titlePadding": 14}},
  "y": {"field": "v", "type": "quantitative", "scale": {"domain": [0, 2.5], "nice": false},
   "axis": {"orient": "left", "values": [0,0.5,1,1.5,2,2.5], "format": ".1f", "title": "Variance (mm/day)²", "grid": false, "domain": false,
    "tickSize": -10, "tickWidth": 3, "tickColor": "black", "labelFontSize": 25, "labelColor": "#333", "labelPadding": 22, "labelFlush": true, "labelFont": "Liberation Sans",
    "titleFontSize": 22.5, "titleFontWeight": "normal", "titleColor": "#333", "titleFont": "Liberation Sans", "titlePadding": 29, "titleY": 175}},
  "color": {"field": "m", "type": "nominal",
   "scale": {"domain": ["Obs(GPI)","Obs(1DD)","CanESM2","CanCM4","CCSM4","CNRM-CM5","CSIRO","INMCM4"], "range": ["#000000","#000000","#ef4123","#ef4123","#ef4123","#ef4123","#2e3192","#2e3192"]},
   "legend": {"title": null, "orient": "none", "legendX": 68, "legendY": -187, "direction": "vertical", "symbolType": "M-8.5,0L8.5,0", "symbolSize": 100, "symbolStrokeWidth": 4, "labelFontSize": 18.5, "labelFont": "Liberation Sans", "labelColor": "#222", "labelOffset": 44, "rowPadding": 2.5, "padding": 0, "labelLimit": 300, "encode": {"symbols": {"update": {"strokeWidth": {"value": 4}, "strokeJoin": {"value": "round"}}}}}},
  "strokeDash": {"field": "m", "type": "nominal",
   "scale": {"domain": ["Obs(GPI)","Obs(1DD)","CanESM2","CanCM4","CCSM4","CNRM-CM5","CSIRO","INMCM4"], "range": [[1,0],[13,10],[1,0],[12,9],[12,6,3,6],[14,5,3,5,3,5,3,5],[1,0],[12,9]]},
   "legend": {"title": null, "orient": "none", "legendX": 68, "legendY": -187, "direction": "vertical", "symbolType": "M-8.5,0L8.5,0", "symbolSize": 100, "symbolStrokeWidth": 4, "labelFontSize": 18.5, "labelFont": "Liberation Sans", "labelColor": "#222", "labelOffset": 44, "rowPadding": 2.5, "padding": 0, "labelLimit": 300, "encode": {"symbols": {"update": {"strokeWidth": {"value": 4}, "strokeJoin": {"value": "round"}}}}}}
 }
},
{
 "transform": [{"filter": {"field": "m", "oneOf": ["IPSL-5AL","IPSL-5AM","IPSL-5BL","FGOALS","MIROC4h","MIROC5","MIROC-E","MIROC-EC"]}}],
 "mark": {"type": "line", "strokeWidth": 1.8},
 "encoding": {
  "x": {"field": "x", "type": "quantitative", "scale": {"domain": [0, 360], "nice": false, "zero": false},
   "axis": {"orient": "top", "values": [0,60,120,180,240,300,360], "title": null, "labels": false, "grid": false, "domain": false, "tickSize": -10, "tickWidth": 3, "tickColor": "black"}},
  "y": {"field": "v", "type": "quantitative", "scale": {"domain": [0, 2.5], "nice": false},
   "axis": {"orient": "right", "values": [0,0.5,1,1.5,2,2.5], "title": null, "labels": false, "grid": false, "domain": false, "tickSize": -10, "tickWidth": 3, "tickColor": "black"}},
  "color": {"field": "m", "type": "nominal",
   "scale": {"domain": ["IPSL-5AL","IPSL-5AM","IPSL-5BL","FGOALS","MIROC4h","MIROC5","MIROC-E","MIROC-EC"], "range": ["#2e3192","#2e3192","#3ab54a","#3ab54a","#3ab54a","#3ab54a","#1fbcb3","#1fbcb3"]},
   "legend": {"title": null, "orient": "none", "legendX": 301, "legendY": -187, "direction": "vertical", "symbolType": "M-8.5,0L8.5,0", "symbolSize": 100, "symbolStrokeWidth": 4, "labelFontSize": 18.5, "labelFont": "Liberation Sans", "labelColor": "#222", "labelOffset": 44, "rowPadding": 2.5, "padding": 0, "labelLimit": 300, "encode": {"symbols": {"update": {"strokeWidth": {"value": 4}, "strokeJoin": {"value": "round"}}}}}},
  "strokeDash": {"field": "m", "type": "nominal",
   "scale": {"domain": ["IPSL-5AL","IPSL-5AM","IPSL-5BL","FGOALS","MIROC4h","MIROC5","MIROC-E","MIROC-EC"], "range": [[12,6,3,6],[14,5,3,5,3,5,3,5],[1,0],[12,9],[12,6,3,6],[14,5,3,5,3,5,3,5],[1,0],[12,9]]},
   "legend": {"title": null, "orient": "none", "legendX": 301, "legendY": -187, "direction": "vertical", "symbolType": "M-8.5,0L8.5,0", "symbolSize": 100, "symbolStrokeWidth": 4, "labelFontSize": 18.5, "labelFont": "Liberation Sans", "labelColor": "#222", "labelOffset": 44, "rowPadding": 2.5, "padding": 0, "labelLimit": 300, "encode": {"symbols": {"update": {"strokeWidth": {"value": 4}, "strokeJoin": {"value": "round"}}}}}}
 }
},
{
 "layer": [
  {
   "transform": [{"filter": {"field": "m", "oneOf": ["HadCM3","HadG2-CC","HadG2-ES","MPI-E-L","MRI3","NorE1-M"]}}],
   "mark": {"type": "line", "strokeWidth": 1.8},
   "encoding": {
    "x": {"field": "x", "type": "quantitative", "scale": {"domain": [0, 360], "nice": false, "zero": false}, "axis": null},
    "y": {"field": "v", "type": "quantitative", "scale": {"domain": [0, 2.5], "nice": false}, "axis": null},
    "color": {"field": "m", "type": "nominal",
     "scale": {"domain": ["HadCM3","HadG2-CC","HadG2-ES","MPI-E-L","MRI3","NorE1-M","CMIP3 Avg","CMIP5 Avg"], "range": ["#1fbcb3","#1fbcb3","#b963b4","#b963b4","#b963b4","#b963b4","#2b2f8f","#ec1c24"]},
     "legend": {"title": null, "orient": "none", "legendX": 563, "legendY": -187, "direction": "vertical", "symbolType": "M-8.5,0L8.5,0", "symbolSize": 100, "symbolStrokeWidth": 4, "labelFontSize": 18.5, "labelFont": "Liberation Sans", "labelColor": "#222", "labelOffset": 44, "rowPadding": 2.5, "padding": 0, "labelLimit": 300,
      "encode": {"symbols": {"update": {"strokeWidth": {"value": 4}, "strokeJoin": {"value": "round"},
       "shape": {"signal": "datum.value === 'CMIP3 Avg' ? 'M-8.5,0L8.5,0M-7.5,-1L-7.5,1M7.5,-1L7.5,1' : datum.value === 'CMIP5 Avg' ? 'M-7.3,0L7.3,0M-6.2,0A1.1,1.1,0,1,1,-8.4,0A1.1,1.1,0,1,1,-6.2,0ZM8.4,0A1.1,1.1,0,1,1,6.2,0A1.1,1.1,0,1,1,8.4,0Z' : 'M-8.5,0L8.5,0'"},
       "fill": {"signal": "datum.value === 'CMIP5 Avg' ? '#ec1c24' : 'transparent'"}}}}}},
    "strokeDash": {"field": "m", "type": "nominal",
     "scale": {"domain": ["HadCM3","HadG2-CC","HadG2-ES","MPI-E-L","MRI3","NorE1-M","CMIP3 Avg","CMIP5 Avg"], "range": [[12,6,3,6],[14,5,3,5,3,5,3,5],[1,0],[12,9],[12,6,3,6],[14,5,3,5,3,5,3,5],[1,0],[1,0]]},
     "legend": {"title": null, "orient": "none", "legendX": 563, "legendY": -187, "direction": "vertical", "symbolType": "M-8.5,0L8.5,0", "symbolSize": 100, "symbolStrokeWidth": 4, "labelFontSize": 18.5, "labelFont": "Liberation Sans", "labelColor": "#222", "labelOffset": 44, "rowPadding": 2.5, "padding": 0, "labelLimit": 300,
      "encode": {"symbols": {"update": {"strokeWidth": {"value": 4}, "strokeJoin": {"value": "round"},
       "shape": {"signal": "datum.value === 'CMIP3 Avg' ? 'M-8.5,0L8.5,0M-7.5,-1L-7.5,1M7.5,-1L7.5,1' : datum.value === 'CMIP5 Avg' ? 'M-7.3,0L7.3,0M-6.2,0A1.1,1.1,0,1,1,-8.4,0A1.1,1.1,0,1,1,-6.2,0ZM8.4,0A1.1,1.1,0,1,1,6.2,0A1.1,1.1,0,1,1,8.4,0Z' : 'M-8.5,0L8.5,0'"},
       "fill": {"signal": "datum.value === 'CMIP5 Avg' ? '#ec1c24' : 'transparent'"}}}}}}
   }
  },
  {
   "transform": [{"filter": {"field": "m", "equal": "CMIP3 Avg"}}],
   "mark": {"type": "line", "strokeWidth": 2.5, "color": "#2b2f8f"},
   "encoding": {
    "x": {"field": "x", "type": "quantitative", "scale": {"domain": [0, 360], "nice": false, "zero": false}, "axis": null},
    "y": {"field": "v", "type": "quantitative", "scale": {"domain": [0, 2.5], "nice": false}, "axis": null}
   }
  },
  {
   "transform": [{"filter": {"field": "m", "equal": "CMIP3 Avg"}}],
   "mark": {"type": "point", "shape": "M-1,0L1,0M0,-1L0,1", "filled": false, "size": 144, "strokeWidth": 2.2, "color": "#2b2f8f", "opacity": 1},
   "encoding": {
    "x": {"field": "x", "type": "quantitative", "scale": {"domain": [0, 360], "nice": false, "zero": false}, "axis": null},
    "y": {"field": "v", "type": "quantitative", "scale": {"domain": [0, 2.5], "nice": false}, "axis": null}
   }
  },
  {
   "transform": [{"filter": {"field": "m", "equal": "CMIP5 Avg"}}],
   "mark": {"type": "line", "strokeWidth": 3.5, "color": "#ec1c24"},
   "encoding": {
    "x": {"field": "x", "type": "quantitative", "scale": {"domain": [0, 360], "nice": false, "zero": false}, "axis": null},
    "y": {"field": "v", "type": "quantitative", "scale": {"domain": [0, 2.5], "nice": false}, "axis": null}
   }
  },
  {
   "transform": [{"filter": {"field": "m", "equal": "CMIP5 Avg"}}],
   "mark": {"type": "point", "shape": "circle", "filled": true, "size": 140, "color": "#ec1c24", "opacity": 1},
   "encoding": {
    "x": {"field": "x", "type": "quantitative", "scale": {"domain": [0, 360], "nice": false, "zero": false}, "axis": null},
    "y": {"field": "v", "type": "quantitative", "scale": {"domain": [0, 2.5], "nice": false}, "axis": null}
   }
  }
 ]
},
{
 "transform": [{"filter": {"field": "m", "oneOf": ["Obs(GPI)","Obs(1DD)"]}}],
 "mark": {"type": "line", "strokeWidth": 5, "color": "black"},
 "encoding": {
  "x": {"field": "x", "type": "quantitative", "scale": {"domain": [0, 360], "nice": false, "zero": false}, "axis": null},
  "y": {"field": "v", "type": "quantitative", "scale": {"domain": [0, 2.5], "nice": false}, "axis": null},
  "strokeDash": {"field": "m", "type": "nominal", "scale": {"domain": ["Obs(GPI)","Obs(1DD)"], "range": [[1,0],[14,10]]}, "legend": null}
 }
}
],
"resolve": {"scale": {"color": "independent", "strokeDash": "independent"}, "axis": {"x": "independent", "y": "independent"}}
}
